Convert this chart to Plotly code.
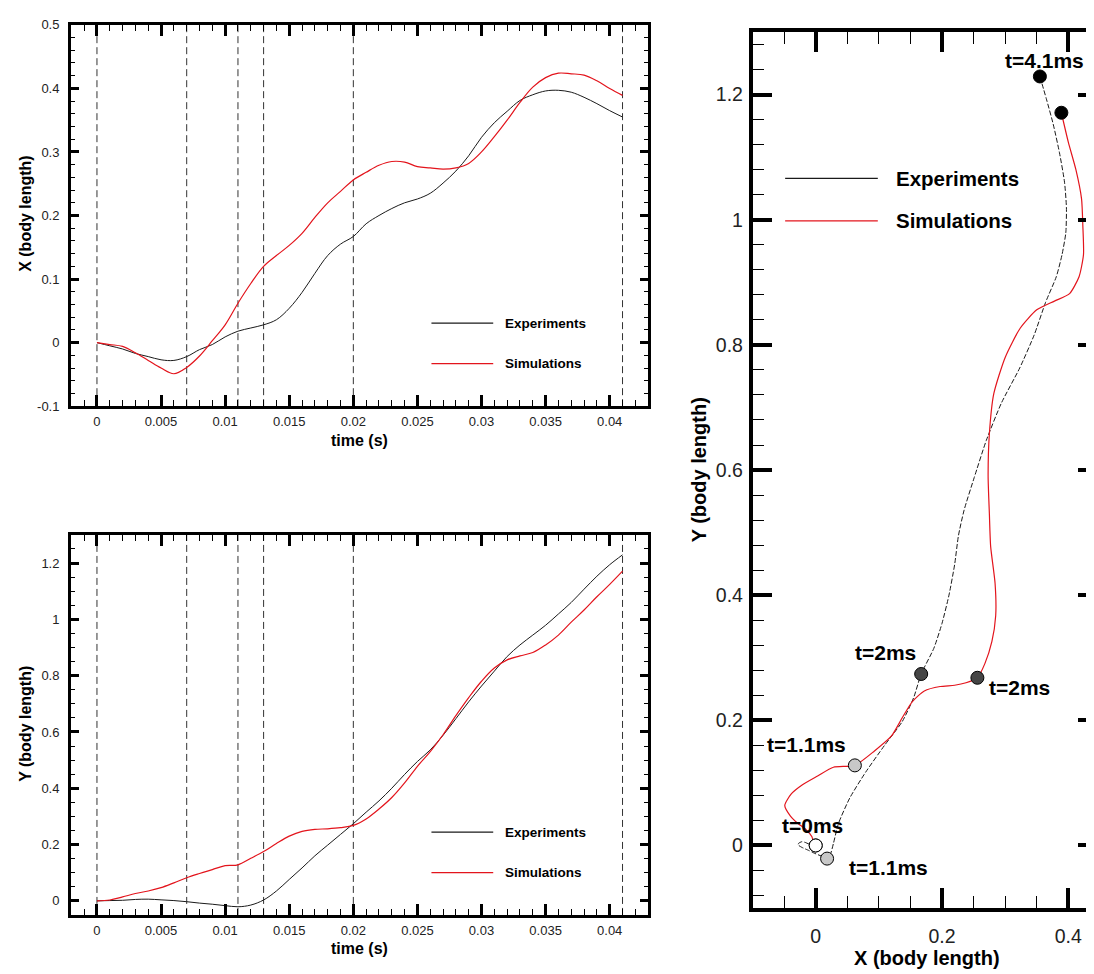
import plotly.graph_objects as go

# ---------------- data ----------------
time_s = [0.000, 0.001, 0.002, 0.003, 0.004, 0.005, 0.006, 0.007, 0.008, 0.009,
          0.010, 0.011, 0.012, 0.013, 0.014, 0.015, 0.016, 0.017, 0.018, 0.019,
          0.020, 0.021, 0.022, 0.023, 0.024, 0.025, 0.026, 0.027, 0.028, 0.029,
          0.030, 0.031, 0.032, 0.033, 0.034, 0.035, 0.036, 0.037, 0.038, 0.039,
          0.040, 0.041]

exp_x = [0.000, -0.005, -0.010, -0.017, -0.022, -0.027, -0.028, -0.022, -0.011, -0.003,
         0.009, 0.018, 0.023, 0.028, 0.036, 0.054, 0.079, 0.109, 0.137, 0.155,
         0.167, 0.187, 0.200, 0.211, 0.220, 0.226, 0.235, 0.251, 0.270, 0.294,
         0.323, 0.346, 0.364, 0.381, 0.390, 0.396, 0.397, 0.394, 0.386, 0.376,
         0.365, 0.355]
sim_x = [0.000, -0.003, -0.006, -0.016, -0.028, -0.040, -0.049, -0.039, -0.021, 0.003,
         0.028, 0.062, 0.093, 0.120, 0.137, 0.153, 0.172, 0.197, 0.220, 0.238,
         0.256, 0.268, 0.279, 0.285, 0.284, 0.277, 0.275, 0.273, 0.275, 0.282,
         0.300, 0.324, 0.350, 0.378, 0.402, 0.417, 0.424, 0.423, 0.421, 0.412,
         0.400, 0.389]
exp_y = [0.000, 0.001, 0.002, 0.005, 0.006, 0.0035, 0.001, -0.003, -0.008, -0.012,
         -0.017, -0.021, -0.015, 0.003, 0.035, 0.076, 0.117, 0.160, 0.198, 0.236,
         0.274, 0.315, 0.355, 0.400, 0.449, 0.495, 0.536, 0.588, 0.647, 0.707,
         0.763, 0.816, 0.868, 0.909, 0.944, 0.979, 1.019, 1.060, 1.107, 1.153,
         1.194, 1.229]
sim_y = [0.000, 0.003, 0.014, 0.026, 0.035, 0.047, 0.064, 0.082, 0.097, 0.111,
         0.125, 0.128, 0.151, 0.175, 0.204, 0.230, 0.247, 0.254, 0.256, 0.260,
         0.268, 0.291, 0.326, 0.367, 0.419, 0.478, 0.530, 0.590, 0.658, 0.722,
         0.780, 0.827, 0.856, 0.870, 0.882, 0.909, 0.944, 0.990, 1.033, 1.080,
         1.124, 1.171]

event_times = [0.0, 0.007, 0.011, 0.013, 0.020, 0.041]

# snapshot markers on the trajectory plot (index into time_s)
snap_idx = [0, 11, 20, 41]
snap_fill = ["white", "#c8c8c8", "#454545", "black"]

time_ticks = [0, 0.005, 0.01, 0.015, 0.02, 0.025, 0.03, 0.035, 0.04]
time_labels = ["0", "0.005", "0.01", "0.015", "0.02", "0.025", "0.03", "0.035", "0.04"]
xbl_ticks = [-0.1, 0, 0.1, 0.2, 0.3, 0.4, 0.5]
xbl_labels = ["-0.1", "0", "0.1", "0.2", "0.3", "0.4", "0.5"]
ybl_ticks = [0, 0.2, 0.4, 0.6, 0.8, 1.0, 1.2]
ybl_labels = ["0", "0.2", "0.4", "0.6", "0.8", "1", "1.2"]
traj_x_ticks = [0, 0.2, 0.4]
traj_x_labels = ["0", "0.2", "0.4"]

snap_labels = ["t=4.1ms", "t=2ms", "t=2ms", "t=1.1ms", "t=0ms", "t=1.1ms"]
snap_label_x = [0.363, 0.110, 0.323, -0.0146, -0.005, 0.115]
snap_label_y = [1.254, 0.308, 0.253, 0.162, 0.0325, -0.0345]

# ---------------- style ----------------
FONT = "Liberation Sans"
BLACK_LINE = "#1a1a1a"
RED_LINE = "#e3141c"
W, H = 1094, 974


def px(xp):
    return xp / W


def py(yp):
    return 1 - yp / H


def axis_style(ticklen, minorlen, font_size, tickvals, ticktext, minor_dtick,
               minor_tick0, rng, domain, anchor, standoff, lw=3, twidth=2.5):
    return dict(
        domain=domain, anchor=anchor, range=rng,
        showline=True, linewidth=lw, linecolor="black", mirror="allticks",
        ticks="inside", ticklen=ticklen, tickwidth=twidth, tickcolor="black",
        tickmode="array", tickvals=tickvals, ticktext=ticktext,
        ticklabelstandoff=standoff,
        tickfont=dict(family=FONT, size=font_size, color="#222"),
        showgrid=False, zeroline=False,
        minor=dict(ticks="inside", ticklen=minorlen, tickwidth=1.3,
                   tickcolor="black", tickmode="linear", tick0=minor_tick0,
                   dtick=minor_dtick, showgrid=False),
    )


fig = go.Figure()

# ---- top-left: X vs time
fig.add_trace(go.Scatter(x=time_s, y=exp_x, mode="lines", xaxis="x", yaxis="y",
                         line=dict(color=BLACK_LINE, width=1, shape="spline"),
                         showlegend=False))
fig.add_trace(go.Scatter(x=time_s, y=sim_x, mode="lines", xaxis="x", yaxis="y",
                         line=dict(color=RED_LINE, width=1.2, shape="spline"),
                         showlegend=False))
# ---- bottom-left: Y vs time
fig.add_trace(go.Scatter(x=time_s, y=exp_y, mode="lines", xaxis="x2", yaxis="y2",
                         line=dict(color=BLACK_LINE, width=1, shape="spline"),
                         showlegend=False))
fig.add_trace(go.Scatter(x=time_s, y=sim_y, mode="lines", xaxis="x2", yaxis="y2",
                         line=dict(color=RED_LINE, width=1.2, shape="spline"),
                         showlegend=False))
# ---- right: trajectory
fig.add_trace(go.Scatter(x=exp_x, y=exp_y, mode="lines", xaxis="x3", yaxis="y3",
                         line=dict(color=BLACK_LINE, width=1, dash="5px,2px",
                                   shape="spline", smoothing=0.6),
                         showlegend=False))
fig.add_trace(go.Scatter(x=sim_x, y=sim_y, mode="lines", xaxis="x3", yaxis="y3",
                         line=dict(color=RED_LINE, width=1.2, shape="spline",
                                   smoothing=0.6),
                         showlegend=False))
# snapshot markers (exp and sim)
for series_x, series_y in ((exp_x, exp_y), (sim_x, sim_y)):
    fig.add_trace(go.Scatter(
        x=[series_x[i] for i in snap_idx], y=[series_y[i] for i in snap_idx],
        mode="markers", xaxis="x3", yaxis="y3", showlegend=False,
        marker=dict(size=13, color=snap_fill, line=dict(color="black", width=1))))

# dashed event lines in both time plots
shapes = []
for xr, yr in (("x", "y domain"), ("x2", "y2 domain")):
    for t in event_times:
        shapes.append(dict(type="line", xref=xr, yref=yr, x0=t, x1=t, y0=0, y1=1,
                           layer="below",
                           line=dict(color="#333", width=1, dash="7px,4px")))

# legend samples
leg = [
    # (x0px, x1px, ypx, color, text, textx, size)
    (425, 487, 313, BLACK_LINE, "Experiments", 497, 13.5),
    (425, 487, 354, RED_LINE, "Simulations", 497, 13.5),
    (425, 487, 830, BLACK_LINE, "Experiments", 497, 13.5),
    (425, 487, 871, RED_LINE, "Simulations", 497, 13.5),
    (780, 873, 166, BLACK_LINE, "Experiments", 889, 20.5),
    (780, 873, 209, RED_LINE, "Simulations", 889, 20.5),
]
annotations = []
for x0, x1, yp, col, txt, tx, sz in leg:
    shapes.append(dict(type="line", xref="paper", yref="paper", x0=px(x0), x1=px(x1),
                       y0=py(yp), y1=py(yp), line=dict(color=col, width=1.2)))
    annotations.append(dict(xref="paper", yref="paper", x=px(tx), y=py(yp), text=txt,
                            showarrow=False, xanchor="left", yanchor="middle",
                            font=dict(family=FONT, size=sz, color="black",
                                      weight="bold")))

# axis titles
titles = [
    ("X (body length)", 18, 202, -90, 16),
    ("time (s)", 353, 432, 0, 16),
    ("Y (body length)", 18, 720, -90, 16),
    ("time (s)", 353, 948, 0, 16),
    ("Y (body length)", 693, 462, -90, 20),
    ("X (body length)", 922, 958, 0, 20),
]
for txt, xp_, yp_, ang, sz in titles:
    annotations.append(dict(xref="paper", yref="paper", x=px(xp_), y=py(yp_), text=txt,
                            showarrow=False, xanchor="center", yanchor="middle",
                            textangle=ang,
                            font=dict(family=FONT, size=sz, color="black",
                                      weight="bold")))

# snapshot labels
for txt, lx, ly in zip(snap_labels, snap_label_x, snap_label_y):
    annotations.append(dict(xref="x3", yref="y3", x=lx, y=ly, text=txt,
                            showarrow=False, xanchor="center", yanchor="middle",
                            font=dict(family=FONT, size=21, color="black",
                                      weight="bold")))

time_range = [-0.00202, 0.0430]
left_dom = [px(63.3), px(642.5)]

fig.update_layout(
    width=W, height=H, margin=dict(l=0, r=0, t=0, b=0),
    paper_bgcolor="white", plot_bgcolor="white",
    xaxis=axis_style(11, 6, 13, time_ticks, time_labels, 0.001, 0, time_range,
                     left_dom, "y", 1),
    yaxis=axis_style(8, 4, 13, xbl_ticks, xbl_labels, 0.02, 0, [-0.1, 0.5],
                     [py(397.3), py(10)], "x", 6),
    xaxis2=axis_style(11, 6, 13, time_ticks, time_labels, 0.001, 0, time_range,
                      left_dom, "y2", 1),
    yaxis2=axis_style(8, 4, 13, ybl_ticks, ybl_labels, 0.05, 0, [-0.05, 1.3],
                      [py(914), py(528)], "x2", 6),
    xaxis3=axis_style(20, 12, 19.5, traj_x_ticks, traj_x_labels, 0.05, 0,
                      [-0.1, 0.447], [px(747.3), 1.0], "y3", 8, lw=3.5, twidth=3.5),
    yaxis3=axis_style(20, 12, 19.5, ybl_ticks, ybl_labels, 0.04, 0, [-0.1, 1.3],
                      [py(907), py(17.3)], "x3", 2, lw=3.5, twidth=3.5),
    shapes=shapes, annotations=annotations,
)

fig.write_html("out.html")
